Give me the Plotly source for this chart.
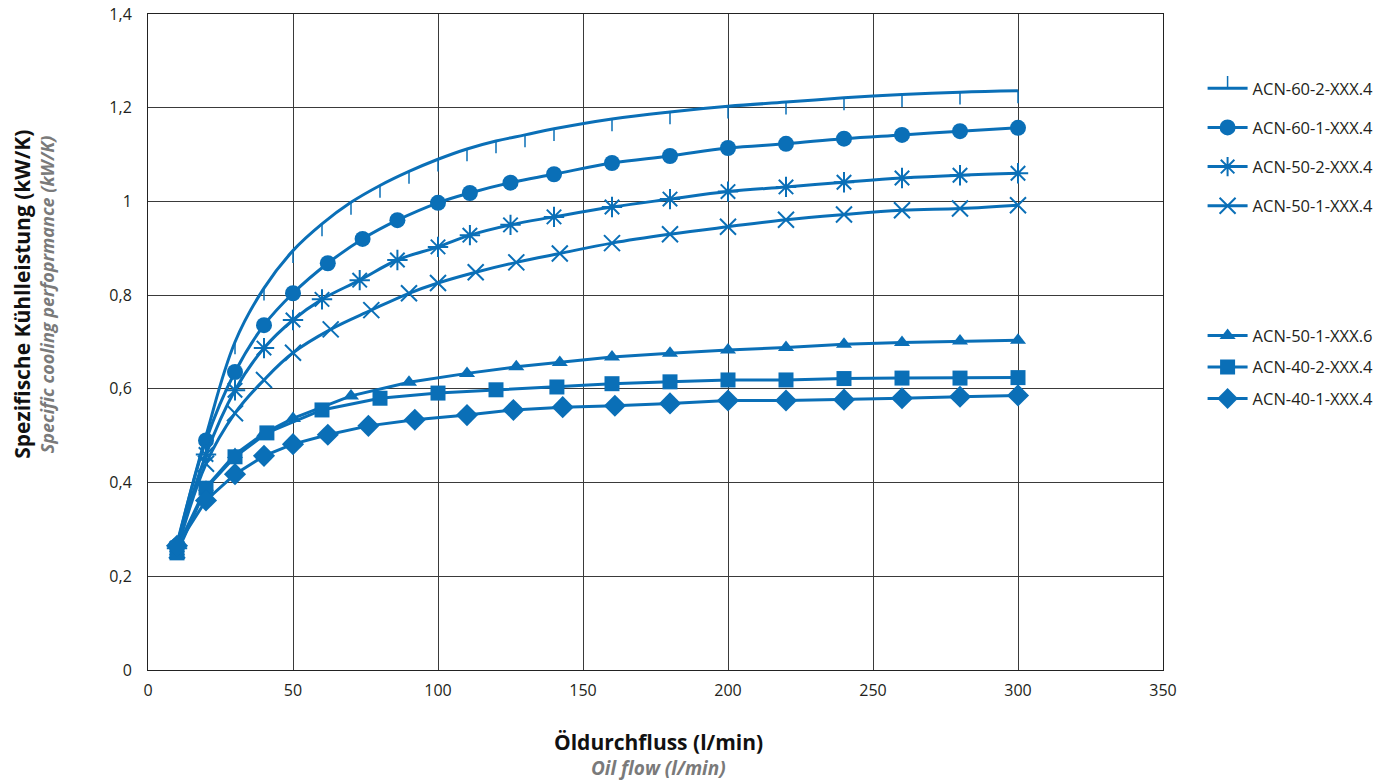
import plotly.graph_objects as go

BLUE = "#0a6fb7"

# ---- data ----
x_60_2 = [10, 20, 30, 40, 50, 60, 70, 80, 90, 100, 110, 120, 130, 140, 160, 180, 200, 220, 240, 260, 280, 300]
y_60_2 = [0.27, 0.50, 0.70, 0.815, 0.895, 0.952, 0.998, 1.034, 1.064, 1.09, 1.112, 1.129, 1.142, 1.155, 1.176, 1.191, 1.203, 1.212, 1.221, 1.228, 1.233, 1.236]

x_60_1 = [10, 20, 30, 40, 50, 62, 74, 86, 100, 111, 125, 140, 160, 180, 200, 220, 240, 260, 280, 300]
y_60_1 = [0.265, 0.49, 0.636, 0.736, 0.804, 0.868, 0.92, 0.96, 0.997, 1.018, 1.04, 1.058, 1.082, 1.097, 1.114, 1.123, 1.134, 1.142, 1.15, 1.157]

x_50_2 = [10, 20, 30, 40, 50, 60, 73, 86, 100, 111, 125, 140, 160, 180, 200, 220, 240, 260, 280, 300]
y_50_2 = [0.26, 0.46, 0.597, 0.687, 0.747, 0.791, 0.832, 0.875, 0.903, 0.928, 0.95, 0.967, 0.988, 1.005, 1.021, 1.031, 1.041, 1.05, 1.056, 1.06]

x_50_1 = [10, 20, 30, 40, 50, 63, 77, 90, 100, 113, 127, 142, 160, 180, 200, 220, 240, 260, 280, 300]
y_50_1 = [0.255, 0.44, 0.548, 0.619, 0.677, 0.727, 0.768, 0.804, 0.826, 0.849, 0.87, 0.889, 0.911, 0.93, 0.946, 0.961, 0.972, 0.981, 0.985, 0.992]

x_50_1_6 = [10, 20, 30, 40, 50, 70, 90, 110, 127, 142, 160, 180, 200, 220, 240, 260, 280, 300]
y_50_1_6 = [0.26, 0.39, 0.46, 0.505, 0.537, 0.585, 0.614, 0.633, 0.647, 0.656, 0.668, 0.676, 0.683, 0.688, 0.695, 0.699, 0.702, 0.704]

x_40_2 = [10, 20, 30, 41, 60, 80, 100, 120, 141, 160, 180, 200, 220, 240, 260, 280, 300]
y_40_2 = [0.25, 0.388, 0.455, 0.506, 0.555, 0.58, 0.591, 0.598, 0.604, 0.611, 0.615, 0.619, 0.619, 0.622, 0.623, 0.623, 0.624]

x_40_1 = [10, 20, 30, 40, 50, 62, 76, 92, 110, 126, 143, 161, 180, 200, 220, 240, 260, 280, 300]
y_40_1 = [0.265, 0.362, 0.418, 0.457, 0.482, 0.502, 0.521, 0.534, 0.544, 0.555, 0.561, 0.564, 0.569, 0.575, 0.575, 0.577, 0.58, 0.583, 0.586]

x_ticks = [0, 50, 100, 150, 200, 250, 300, 350]
y_ticks = [0, 0.2, 0.4, 0.6, 0.8, 1.0, 1.2, 1.4]

FONT = "Open Sans"

fig = go.Figure()

def add(name, x, y, marker, legend, shape="spline"):
    fig.add_trace(go.Scatter(
        x=x, y=y, name=name, mode="lines+markers",
        line=dict(color=BLUE, width=3, shape=shape, smoothing=1.1),
        marker=marker, legend=legend, legendgroup=name,
    ))

add("ACN-60-2-XXX.4", x_60_2, y_60_2,
    dict(symbol="line-ns", size=9, angle=0, standoff=6, color=BLUE,
         line=dict(color=BLUE, width=1.5)), "legend")
add("ACN-60-1-XXX.4", x_60_1, y_60_1,
    dict(symbol="circle", size=16, color=BLUE), "legend")
add("ACN-50-2-XXX.4", x_50_2, y_50_2,
    dict(symbol="asterisk-open", size=17, color=BLUE, line=dict(color=BLUE, width=2)), "legend")
add("ACN-50-1-XXX.4", x_50_1, y_50_1,
    dict(symbol="x-thin-open", size=16, color=BLUE, line=dict(color=BLUE, width=2)), "legend")
add("ACN-50-1-XXX.6", x_50_1_6, y_50_1_6,
    dict(symbol="triangle-up", size=14, color=BLUE), "legend2", shape="linear")
add("ACN-40-2-XXX.4", x_40_2, y_40_2,
    dict(symbol="square", size=15, color=BLUE), "legend2", shape="linear")
add("ACN-40-1-XXX.4", x_40_1, y_40_1,
    dict(symbol="diamond", size=17, color=BLUE), "legend2", shape="linear")

axis_common = dict(
    showgrid=True, gridcolor="#3a3a3a", gridwidth=1,
    showline=True, mirror=True, linecolor="#222", linewidth=1,
    zeroline=False, ticks="", automargin=False, ticklabeloverflow="allow",
    tickfont=dict(family=FONT, size=16, color="#231f20"),
)

fig.update_layout(
    width=1393, height=780,
    margin=dict(l=148, r=230, t=14, b=110),
    plot_bgcolor="white", paper_bgcolor="white",
    separators=",.",
    font=dict(family=FONT, color="#231f20"),
    xaxis=dict(range=[0, 350], tickvals=x_ticks, ticklabelstandoff=6, **axis_common),
    yaxis=dict(range=[0, 1.4], tickvals=y_ticks, ticklabelstandoff=12, **axis_common),
    legend=dict(x=1.039, y=0.913, xanchor="left", yanchor="top", itemwidth=40,
                font=dict(family=FONT, size=16.5, color="#231f20"),
                tracegroupgap=14.7, bgcolor="rgba(0,0,0,0)"),
    legend2=dict(x=1.039, y=0.536, xanchor="left", yanchor="top", itemwidth=40,
                 font=dict(family=FONT, size=16.5, color="#231f20"),
                 tracegroupgap=7, bgcolor="rgba(0,0,0,0)"),
    annotations=[
        dict(text="<b>Öldurchfluss (l/min)</b>", xref="paper", yref="paper",
             x=0.503, y=-0.1098, xanchor="center", yanchor="middle", showarrow=False,
             font=dict(family=FONT, size=21, color="#111")),
        dict(text="<b><i>Oil flow (l/min)</i></b>", xref="paper", yref="paper",
             x=0.503, y=-0.149, xanchor="center", yanchor="middle", showarrow=False,
             font=dict(family=FONT, size=19, color="#7a7a7a")),
        dict(text="<b>Spezifische Kühlleistung (kW/K)</b>", xref="paper", yref="paper",
             x=-0.1241, y=0.572, xanchor="center", yanchor="middle", showarrow=False,
             textangle=-90, font=dict(family=FONT, size=21, color="#111")),
        dict(text="<b><i>Specific cooling perfoprmance (kW/K)</i></b>", xref="paper", yref="paper",
             x=-0.1, y=0.572, xanchor="center", yanchor="middle", showarrow=False,
             textangle=-90, font=dict(family=FONT, size=18, color="#7a7a7a")),
    ],
)

# remove the browser's default 8px page margin so the figure fills the window
fig.write_html("out.html", config={"displayModeBar": False},
               post_script="document.body.style.margin='0';")
